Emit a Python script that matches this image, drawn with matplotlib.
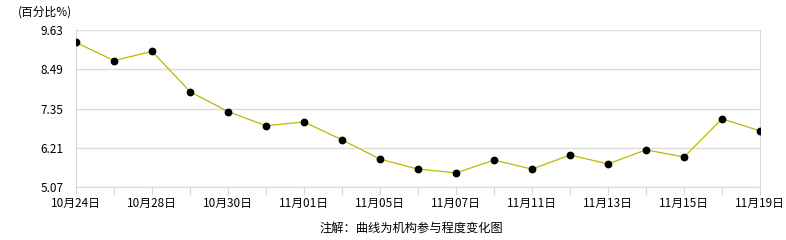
import numpy as np
import matplotlib
matplotlib.use("Agg")
import matplotlib.pyplot as plt

plt.rcParams['font.family'] = ['Noto Sans CJK SC', 'DejaVu Sans']

# x labels (only every other point is labelled in the chart)
dates = ['10月24日', '', '10月28日', '', '10月30日', '', '11月01日', '',
         '11月05日', '', '11月07日', '', '11月11日', '', '11月13日', '',
         '11月15日', '', '11月19日']
values = [9.27, 8.74, 9.01, 7.84, 7.26, 6.85, 6.96, 6.44, 5.88, 5.59,
          5.48, 5.85, 5.59, 6.00, 5.74, 6.15, 5.94, 7.05, 6.70]
yticks = [5.07, 6.21, 7.35, 8.49, 9.63]

fig = plt.figure(figsize=(7.86, 2.4), dpi=100)
ax = fig.add_axes([76/786, 53/240, 684/786, 157/240])

x = np.arange(len(values))
ax.plot(x, values, color='#bdb800', lw=0.9, zorder=2)
ax.plot(x, values, 'o', color='black', ms=4.6, zorder=3)

ax.set_xlim(0, len(values) - 1)
ax.set_ylim(yticks[0], yticks[-1])
ax.set_yticks(yticks)
ax.set_yticklabels(['%.2f' % v for v in yticks], fontsize=8.5)
ax.set_xticks(x)
ax.set_xticklabels(dates, fontsize=8.5)
ax.tick_params(axis='y', length=0, pad=9)
ax.tick_params(axis='x', length=6, color='#d8d8d8', pad=1)

ax.grid(axis='y', color='#dcdcdc', lw=1)
ax.set_axisbelow(True)
for s in ['left', 'right', 'bottom']:
    ax.spines[s].set_color('#d8d8d8')
ax.spines['top'].set_visible(False)

fig.text(18/786, 1 - 12/240, '(百分比%)', fontsize=8.5, va='center', ha='left')
fig.text(411/786, 1 - 228/240, '注解：曲线为机构参与程度变化图', fontsize=8.8,
         va='center', ha='center')

fig.savefig('out.png', dpi=100)
